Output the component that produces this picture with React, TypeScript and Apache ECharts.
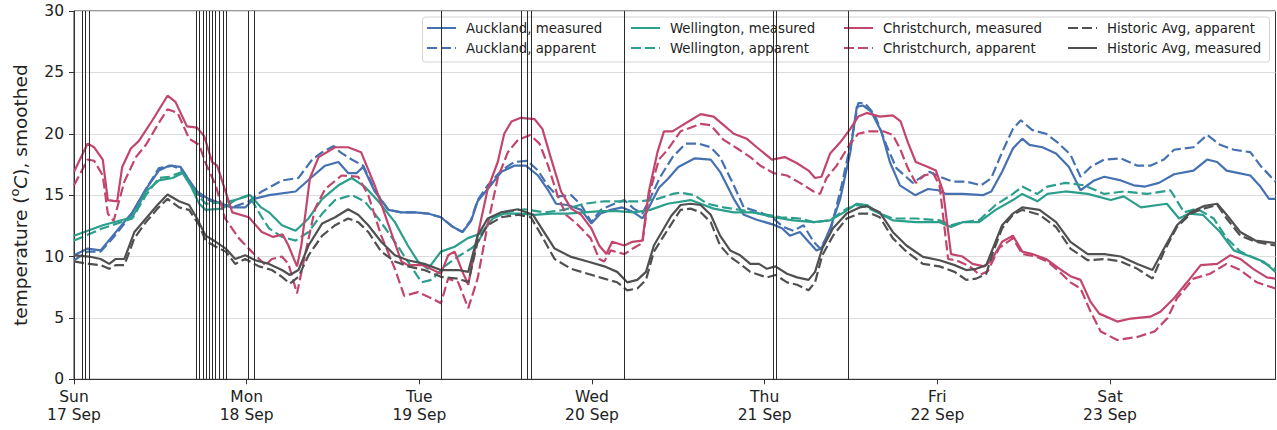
import React, { useEffect, useRef } from 'react';
import * as echarts from 'echarts';

// ---------- data (hours since Sun 17 Sep 00:00, temperature °C) ----------
const dayLabels = ['Sun\n17 Sep', 'Mon\n18 Sep', 'Tue\n19 Sep', 'Wed\n20 Sep', 'Thu\n21 Sep', 'Fri\n22 Sep', 'Sat\n23 Sep'];
const dayTickHours = [0, 24, 48, 72, 96, 120, 144];
const lastHour = 167;

const eventHours = [1.15, 1.55, 2.1, 17.0, 17.45, 17.9, 18.35, 18.8, 19.25, 19.7, 20.2, 20.7, 21.2, 24.2, 25.07,
  51.05, 62.15, 63.05, 63.6, 76.55, 97.15, 97.6, 107.66];

const aucklandMeasured = [[0,10.1],[1.9,10.65],[3.7,10.5],[5.4,11.7],[8.1,13.6],[10,15.5],[11.8,17.0],[13.2,17.4],[14.8,17.3],[16,16.2],[17.1,15.3],[18.7,14.7],[20.6,14.3],[22,14.0],[23.8,14.0],[25,14.7],[27.1,15.0],[30.8,15.3],[33.1,16.5],[34.9,17.4],[36.75,17.7],[38.1,16.8],[39.3,16.8],[40.2,17.3],[41.8,15.3],[43.7,13.8],[45.5,13.6],[47.4,13.6],[49.2,13.5],[51,13.2],[52.7,12.4],[54,12.0],[55.2,12.9],[56.1,14.5],[57.5,15.5],[59.4,16.9],[61.2,17.4],[62.8,17.4],[64.5,16.6],[65.8,15.5],[67,14.3],[68.6,14.2],[70.5,13.8],[71.9,12.7],[73.2,13.5],[74.6,13.8],[76.2,14.0],[77.8,13.6],[79,13.1],[79.9,14.0],[81.3,15.6],[82.5,16.3],[84,17.3],[86.3,18.0],[88.5,17.9],[89.8,16.9],[91.7,14.7],[93.1,13.4],[94.9,13.0],[97.2,12.6],[98.4,12.3],[99.5,11.7],[100.9,12.0],[102.1,11.2],[103.2,10.5],[103.9,10.65],[105.1,12.3],[106.5,14.7],[107.9,18.5],[108.8,22.2],[109.7,22.3],[110.8,21.8],[112.2,20.2],[113.4,17.7],[114.8,15.8],[116.9,15.0],[118.7,15.5],[120.1,15.4],[121.2,15.1],[123.5,15.1],[126.3,15.0],[127.5,15.3],[129,16.9],[130.5,18.8],[131.8,19.6],[132.8,19.1],[134.6,18.9],[136.5,18.4],[138.3,17.3],[139.9,15.4],[141.8,16.2],[143.2,16.5],[145.5,16.2],[147.3,15.8],[148.9,15.7],[150.8,16.0],[152.9,16.7],[155.6,17.0],[157.5,17.9],[158.9,17.7],[160.2,17.0],[161.9,16.8],[163.5,16.6],[164.9,15.7],[166.1,14.7],[167,14.7]];

const aucklandApparent = [[0,9.7],[1.9,10.4],[3.7,10.4],[5.4,11.5],[8.1,13.5],[10,15.5],[11.8,17.2],[13.7,17.4],[15.1,17.0],[16,16.2],[17.1,15.1],[18.7,14.6],[20.6,14.2],[22,14.0],[24.3,14.5],[26.1,15.3],[27.7,15.8],[28.9,16.2],[31.2,16.4],[33.1,17.9],[34.5,18.5],[36.1,19.0],[37,18.5],[38.6,17.9],[40.2,17.4],[41.8,15.4],[43.7,13.8],[45.5,13.6],[47.4,13.6],[49.2,13.5],[51,13.2],[52.7,12.4],[54,12.0],[55.2,13.0],[56.1,14.6],[57.5,15.8],[59.4,17.0],[61.2,17.7],[63,17.8],[64.5,17.0],[65.8,15.8],[67.2,14.9],[69.1,15.0],[70.5,14.2],[71.9,12.8],[73.2,13.8],[75.1,14.3],[76.5,14.6],[77.8,13.9],[79,13.5],[80.2,14.9],[81.5,16.5],[83.2,18.1],[85,19.2],[86.8,19.2],[88.5,18.9],[89.8,18.1],[91.7,15.8],[93.1,14.0],[95.4,13.6],[97.2,13.1],[98.6,12.4],[100,12.1],[101.4,12.55],[102.8,11.2],[103.7,10.65],[105.1,12.0],[106.7,15.8],[108.1,19.6],[109,22.5],[109.9,22.5],[110.8,21.9],[111.5,21.25],[112.9,19.1],[114.3,17.2],[116.6,16.0],[118.9,16.9],[120.3,16.5],[122.2,16.1],[124,16.1],[126.1,15.8],[127.5,16.4],[129,18.5],[130.5,20.4],[131.6,21.1],[133.2,20.3],[135.1,20.0],[136.7,19.3],[138.5,18.3],[139.9,16.5],[141.3,17.3],[143.2,17.9],[145.5,18.0],[147.8,17.4],[149.6,17.4],[151.5,17.9],[152.9,18.7],[155.6,18.9],[157.5,19.9],[159.3,19.1],[161.2,18.7],[163.5,18.5],[164.9,17.4],[167,16.1]];

const wellingtonMeasured = [[0,11.7],[4,12.55],[8.1,13.2],[10,15.3],[11.8,16.2],[13.7,16.4],[15.1,16.8],[16.2,15.8],[17.4,14.3],[18.3,13.8],[20.6,13.9],[22.4,14.6],[24.5,15.0],[26,14.0],[27.1,13.6],[28.9,12.55],[30.8,12.1],[32.6,13.1],[34.5,14.7],[36.75,15.8],[38.6,16.4],[40.4,15.7],[42.3,14.5],[44.6,12.8],[46.4,10.9],[47.8,9.6],[49.2,9.0],[51,10.4],[52.9,10.8],[54.75,11.5],[56.6,11.9],[58.2,13.1],[59.8,13.5],[62.1,13.5],[64,13.4],[66.3,13.5],[68.6,13.5],[70.9,13.6],[73.2,13.7],[75.5,13.7],[77.8,13.6],[80.1,13.8],[82.5,14.3],[85.7,14.6],[88.9,13.9],[91.7,13.6],[94.4,13.6],[97.2,13.2],[100,12.95],[102.8,12.8],[105.1,12.95],[107,13.6],[108.8,14.3],[110.2,14.2],[112,13.5],[113.8,12.95],[117,12.8],[120.3,12.8],[121.9,12.4],[123.5,12.8],[125.8,12.8],[128.1,13.8],[130.5,14.6],[131.8,15.1],[133.9,14.5],[135.3,15.1],[137.8,15.3],[140.9,15.1],[144.1,14.6],[145.9,14.9],[148.3,14.0],[151.9,14.3],[153.6,13.1],[155,13.5],[156.9,13.4],[159.3,12.0],[161.2,10.5],[163.5,10.0],[165.3,9.6],[167,8.75]];

const wellingtonApparent = [[0,11.3],[4,12.3],[8.1,13.1],[10,15.0],[11.8,16.4],[13.2,16.5],[15.1,16.9],[16.2,15.8],[17.4,14.9],[18.3,14.3],[20.6,14.4],[22.4,14.6],[24.3,15.0],[25.9,13.4],[27.1,12.3],[28.9,11.6],[30.8,11.3],[32.6,12.0],[34.5,13.5],[36.3,14.6],[38.6,15.0],[40.4,14.5],[42.3,13.1],[44.6,11.2],[46.4,9.6],[48.3,7.9],[49.7,8.1],[51.5,9.2],[53.4,10.0],[55.2,10.65],[56.1,11.1],[58,13.2],[59.8,13.6],[62.6,13.85],[65.4,13.6],[68.1,13.8],[70.9,14.3],[73.7,14.5],[76,14.5],[78.8,14.5],[81.1,14.7],[83.2,15.1],[84.3,15.2],[86.2,15.0],[88,14.3],[90.3,14.0],[92.6,13.8],[95.4,13.5],[98.2,13.2],[100.9,13.1],[102.8,12.8],[105.1,12.95],[107.4,13.9],[109,14.2],[110.2,14.0],[112,13.5],[113.8,13.1],[117,13.1],[120.3,12.95],[121.9,12.55],[123.5,12.8],[125.8,12.95],[128.1,14.2],[130.5,15.1],[131.8,15.7],[133.9,15.1],[135.3,15.7],[137.8,16.0],[140.4,15.8],[143.2,15.1],[145.9,15.3],[149.2,15.1],[152.4,15.4],[154.3,13.6],[156.1,13.9],[158.4,13.1],[160.2,11.5],[162.1,10.4],[164.4,9.8],[167,9.0]];

const christchurchMeasured = [[0,16.9],[1.9,19.2],[2.8,18.9],[4,17.9],[4.7,14.6],[6,14.5],[6.7,17.3],[7.9,18.8],[9,19.4],[10.9,21.1],[13,23.1],[14.1,22.6],[15.7,20.6],[17.1,20.5],[18.1,19.8],[19.2,17.7],[19.9,17.4],[22,13.6],[24.3,13.2],[26.1,12.0],[27.7,11.6],[29,11.8],[29.8,10.9],[31,9.2],[31.6,10.9],[32.8,16.4],[34,18.1],[36.3,18.9],[38.1,18.9],[39.9,18.5],[41.8,15.8],[43.7,12.6],[45.5,9.6],[46.4,9.3],[48.5,9.3],[51,8.6],[52,10.1],[52.9,10.4],[54,8.75],[54.8,7.7],[56.1,11.7],[57.5,15.5],[58.9,17.7],[59.8,20.0],[60.8,21.0],[62.1,21.3],[64,21.2],[65.1,20.4],[66.3,18.0],[67.7,15.3],[69.1,13.9],[70.5,13.4],[71.9,12.3],[73,10.9],[74,10.2],[74.8,11.2],[76.5,10.9],[77.6,11.2],[79,11.3],[79.9,15.3],[81.1,18.5],[82,20.2],[83.2,20.2],[84.3,20.6],[85.7,21.1],[87.1,21.6],[88.9,21.4],[90.3,20.7],[91.7,20.0],[93.5,19.6],[94.9,18.9],[97,17.9],[98.8,18.1],[100.5,17.6],[102.1,17.0],[103,16.4],[103.9,16.5],[105.1,18.4],[106.5,19.3],[107.9,20.4],[109,21.4],[110.2,21.7],[112,21.4],[113.8,21.5],[114.9,21.0],[115.9,19.3],[117,17.7],[118.7,17.3],[119.8,17.0],[120.8,15.3],[121.9,10.2],[123.5,10.0],[124.9,9.4],[126.5,9.2],[127.4,9.6],[129,11.2],[130.5,11.7],[131.8,10.4],[133.2,10.2],[135.1,9.8],[137,9.0],[138.5,8.4],[139.9,8.1],[141.3,6.3],[142.5,5.35],[145,4.7],[146.9,4.95],[149.6,5.1],[151,5.5],[152.9,6.6],[154.7,7.9],[156.6,9.3],[158.9,9.4],[160.7,10.1],[162.1,9.8],[163.9,9.0],[165.8,8.3],[167,8.2]];

const christchurchApparent = [[0,15.8],[1.9,17.9],[2.8,17.8],[4,16.6],[4.7,13.5],[5.5,12.9],[7,16.1],[8.6,18.1],[10,19.1],[11.6,20.7],[13,22.0],[14.4,21.7],[16,19.6],[17.4,19.1],[18.3,17.6],[19.7,15.8],[21,13.1],[22.9,11.5],[24.7,10.4],[26.6,9.3],[27.5,9.8],[28.9,10.0],[29.8,9.4],[31,7.0],[32.1,10.1],[33.5,13.9],[34.9,15.5],[37.2,16.6],[39.5,16.5],[40.9,15.0],[42.7,11.7],[44.6,9.0],[45.9,6.8],[47.8,7.1],[49.7,6.6],[51,6.2],[52,8.2],[53.4,7.9],[54.8,5.8],[56.1,8.2],[57.5,12.6],[58.9,16.4],[60.3,18.5],[61.7,19.5],[63.4,19.9],[64.7,19.2],[65.9,17.4],[67.2,15.0],[68.4,13.4],[70,12.6],[71.8,11.5],[73,9.8],[73.7,9.6],[74.6,10.5],[76.5,10.2],[77.8,10.7],[79,11.1],[79.9,15.0],[81.3,17.9],[82.5,18.7],[84.3,20.2],[87.1,20.8],[88.5,20.7],[90.3,19.5],[92.2,18.8],[94,18.1],[95.4,17.4],[97.2,16.8],[99.1,16.6],[100.9,16.0],[102.8,15.3],[103.7,15.1],[104.6,16.4],[106,17.4],[107.9,19.2],[109,20.0],[110.5,20.2],[112.5,20.2],[113.8,19.9],[114.8,18.8],[115.9,17.2],[117,16.0],[118.2,16.6],[119.4,16.8],[120.3,15.8],[121.5,9.8],[122.6,9.7],[124.5,9.2],[125.9,8.5],[127,8.8],[128.6,10.7],[130.5,11.5],[131.8,10.2],[133.7,10.0],[135.3,9.6],[137,8.75],[138.5,7.9],[139.9,7.4],[141.3,5.5],[142.7,3.9],[145,3.2],[147.8,3.45],[150.2,3.9],[152,5.0],[153.3,6.6],[155.6,8.2],[157.9,8.6],[160.2,9.4],[162.1,8.9],[164.4,7.9],[167,7.4]];

const historicApparent = [[0,9.6],[2.1,9.4],[3.7,9.3],[4.9,9.0],[5.8,9.3],[7,9.3],[8.4,11.5],[10,12.8],[11.6,13.9],[13,14.7],[14.6,14.0],[16,13.8],[17.4,12.55],[18.3,11.3],[19.7,10.8],[21.1,10.4],[22.4,9.4],[23.8,9.8],[25.7,9.2],[27.5,8.9],[28.9,8.35],[30,7.8],[31.2,8.35],[32.6,10.1],[34.5,11.7],[36.3,12.55],[38.1,13.1],[39.5,12.8],[40.9,12.0],[42.7,10.4],[44.6,9.6],[46.4,9.2],[48.7,8.9],[51,8.35],[53.4,8.2],[54.8,7.9],[56.1,11.2],[57.5,12.55],[59.4,13.2],[61.7,13.4],[63.5,13.2],[65,11.7],[66.8,9.8],[69.1,9.0],[71.4,8.6],[73.7,8.2],[75.5,7.9],[76.9,7.25],[78.3,7.4],[79.5,8.1],[80.6,10.4],[82,11.7],[83.2,12.8],[84.3,13.8],[85.7,13.9],[87.1,13.6],[88.5,12.8],[89.8,10.9],[91.2,9.97],[92.6,9.4],[94,8.75],[96.3,8.3],[97.5,8.5],[99.1,7.9],[100.5,7.7],[102.1,7.25],[103,7.9],[104,10.1],[105.5,11.7],[107.4,13.1],[109.2,13.5],[110.8,13.5],[112,13.2],[113.8,11.5],[115.7,10.4],[118,9.4],[120.3,9.2],[122.4,8.75],[124,8.1],[125.4,8.2],[126.8,8.6],[127.7,10.3],[129,12.3],[130.5,13.4],[131.8,13.8],[134.2,13.4],[136.5,12.4],[138.5,10.65],[140.9,9.7],[143.2,9.8],[145.5,9.6],[147.8,9.0],[149.9,8.2],[151.5,10.4],[153.3,12.4],[155.2,13.5],[157,13.9],[158.9,14.2],[160.2,13.1],[162.1,11.7],[164.2,11.2],[167,10.9]];

const historicMeasured = [[0,10.1],[2.1,10.0],[3.7,9.8],[4.9,9.4],[5.8,9.8],[7,9.8],[8.4,12.0],[10,13.1],[11.6,14.2],[13,15.05],[14.6,14.5],[16,14.2],[17.1,13.1],[18.3,11.7],[19.7,11.2],[21.1,10.65],[22.4,9.8],[23.8,10.1],[25.2,9.7],[27.1,9.4],[28.9,8.9],[30,8.5],[31.2,8.9],[32.6,10.9],[34.5,12.7],[36.3,13.2],[38.1,13.85],[39.5,13.4],[40.9,12.55],[42.7,11.2],[44.6,10.1],[46.4,9.7],[48.7,9.4],[51,8.9],[53.4,8.9],[54.8,8.75],[56.1,11.7],[57.5,13.1],[59.4,13.6],[61.7,13.85],[63.8,13.4],[65,12.3],[66.8,10.65],[69.1,9.97],[71.4,9.6],[73.7,9.2],[75.5,8.75],[76.9,7.9],[78.3,8.1],[79.5,8.75],[80.6,10.9],[82,12.3],[83,13.3],[84.3,14.2],[85.7,14.3],[87.1,14.2],[88.5,13.4],[89.8,11.7],[91.2,10.5],[92.6,10.1],[94,9.4],[95.2,9.4],[96.3,9.0],[97.5,9.2],[99.1,8.6],[100.5,8.3],[102.1,8.1],[103,8.75],[104,10.65],[105.5,12.3],[107.4,13.5],[109.2,14.0],[110.2,14.1],[112,13.6],[113.8,12.0],[115.7,10.9],[118,9.97],[120.3,9.7],[122.4,9.3],[124,8.9],[125.4,9.0],[126.8,9.3],[127.7,10.65],[129,12.55],[130.5,13.5],[131.8,14.0],[134.2,13.8],[136.5,12.8],[138.5,11.2],[140.9,10.2],[143.2,10.2],[145.5,10.0],[147.8,9.4],[149.9,8.9],[151.5,10.65],[153.3,12.55],[155.2,13.6],[157,14.1],[158.9,14.3],[160.2,13.4],[162.1,12.0],[164.2,11.3],[167,11.1]];

// ---------- styling ----------
const FONT = 'DejaVu Sans';
const BLUE = '#4571b0';
const TEAL = '#2b9e8c';
const RED = '#c2456b';
const GRAY = '#505050';
const DASH = [10, 4];

function lineSeries(name: string, data: number[][], color: string, dashed: boolean, extra: any = {}) {
  return {
    name,
    type: 'line',
    data,
    symbol: 'none',
    showSymbol: false,
    silent: true,
    lineStyle: { color, width: 2.2, type: dashed ? DASH : 'solid', cap: 'butt' },
    itemStyle: { color },
    z: 2,
    ...extra,
  };
}

const legendLayout = [
  { name: 'Auckland, measured', left: 426, top: 20 },
  { name: 'Auckland, apparent', left: 426, top: 40 },
  { name: 'Wellington, measured', left: 630, top: 20 },
  { name: 'Wellington, apparent', left: 630, top: 40 },
  { name: 'Christchurch, measured', left: 843, top: 20 },
  { name: 'Christchurch, apparent', left: 843, top: 40 },
  { name: 'Historic Avg, apparent', left: 1067, top: 20 },
  { name: 'Historic Avg, measured', left: 1067, top: 40 },
];

export default function App() {
  const ref = useRef<HTMLDivElement>(null);

  useEffect(() => {
    if (!ref.current) return;
    const chart = echarts.init(ref.current, undefined, { renderer: 'svg' });

    const option: any = {
      animation: false,
      backgroundColor: '#ffffff',
      textStyle: { fontFamily: FONT },
      grid: {
        left: 70, right: 1.5, top: 11, bottom: 50.7,
        show: true, borderColor: '#333333', borderWidth: 1, backgroundColor: 'transparent',
      },
      xAxis: {
        type: 'value',
        min: 0,
        max: lastHour,
        axisLine: { show: true, lineStyle: { color: '#333333', width: 1 } },
        axisTick: { show: true, length: 5, inside: false, customValues: dayTickHours, lineStyle: { color: '#333333' } },
        splitLine: { show: false },
        axisLabel: {
          customValues: dayTickHours,
          formatter: (v: number) => {
            const i = Math.round(v / 24);
            return Math.abs(v - i * 24) < 1e-6 && dayLabels[i] ? dayLabels[i] : '';
          },
          fontFamily: FONT,
          fontSize: 15.5,
          color: '#222222',
          lineHeight: 18.5,
          margin: 8,
        },
      },
      yAxis: {
        type: 'value',
        min: 0,
        max: 30,
        interval: 5,
        name: '{a|temperature (}{s|o}{i|C}{a|), smoothed}',
        nameLocation: 'middle',
        nameRotate: 90,
        nameGap: 42,
        nameTextStyle: {
          fontFamily: FONT,
          fontSize: 18.5,
          color: '#222222',
          rich: {
            a: { fontFamily: FONT, fontSize: 18.5, color: '#222222', lineHeight: 24 },
            s: { fontFamily: FONT, fontSize: 13, color: '#222222', lineHeight: 13, verticalAlign: 'top' },
            i: { fontFamily: FONT, fontSize: 18.5, fontStyle: 'italic', color: '#222222', lineHeight: 24 },
          },
        },
        axisLine: { show: true, lineStyle: { color: '#333333', width: 1 } },
        axisTick: { show: true, length: 5, inside: false, lineStyle: { color: '#333333' } },
        splitLine: { show: true, lineStyle: { color: '#dcdcdc', width: 1 } },
        axisLabel: { fontFamily: FONT, fontSize: 15.5, color: '#222222', margin: 10 },
      },
      legend: legendLayout.map((l) => ({
        data: [l.name],
        left: l.left,
        top: l.top,
        orient: 'horizontal',
        padding: 0,
        itemWidth: 29,
        itemHeight: 14,
        selectedMode: false,
        z: 5,
        itemStyle: { opacity: 0, borderWidth: 0 },
        textStyle: { fontFamily: FONT, fontSize: 13.3, color: '#222222', lineHeight: 16, padding: [0, 0, 0, 5] },
      })),
      graphic: [
        {
          type: 'rect',
          z: 3,
          silent: true,
          shape: { x: 422.5, y: 17, width: 847, height: 45, r: 3 },
          style: { fill: 'rgba(255,255,255,0.8)', stroke: '#d4d4d4', lineWidth: 1 },
        },
      ],
      series: [
        lineSeries('Auckland, measured', aucklandMeasured, BLUE, false, {
          markLine: {
            silent: true,
            symbol: 'none',
            label: { show: false },
            animation: false,
            lineStyle: { color: '#2a2a2a', width: 1, type: 'solid' },
            emphasis: { disabled: true },
            data: eventHours.map((h) => ({ xAxis: h })),
          },
        }),
        lineSeries('Auckland, apparent', aucklandApparent, BLUE, true),
        lineSeries('Wellington, measured', wellingtonMeasured, TEAL, false),
        lineSeries('Wellington, apparent', wellingtonApparent, TEAL, true),
        lineSeries('Christchurch, measured', christchurchMeasured, RED, false),
        lineSeries('Christchurch, apparent', christchurchApparent, RED, true),
        lineSeries('Historic Avg, apparent', historicApparent, GRAY, true),
        lineSeries('Historic Avg, measured', historicMeasured, GRAY, false),
      ],
    };

    chart.setOption(option);
    return () => {
      chart.dispose();
    };
  }, []);

  return (
    <div
      ref={ref}
      style={{ position: 'absolute', left: 0, top: 0, width: 1277, height: 430, background: '#fff' }}
    />
  );
}
